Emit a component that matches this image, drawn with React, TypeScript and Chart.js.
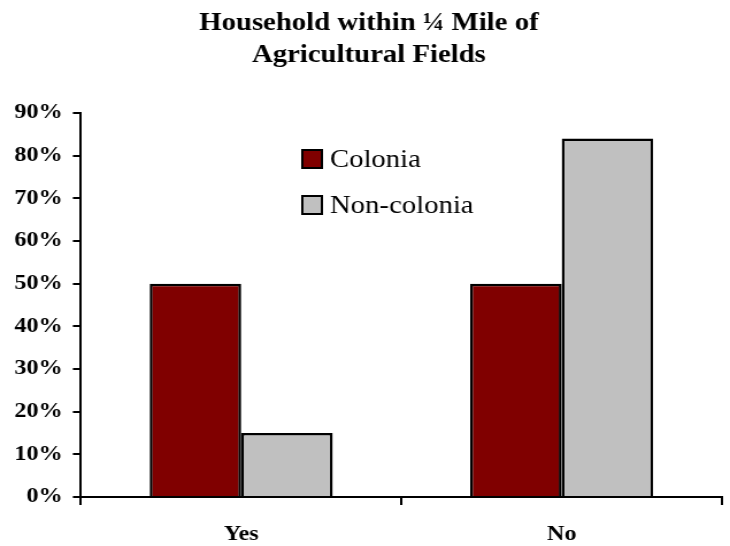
import React, { useEffect, useRef } from "react";
import { Chart, registerables } from "chart.js";

Chart.register(...registerables);

const categories = ["Yes", "No"];
const coloniaValues = [50, 50];
const nonColoniaValues = [15, 84];
const seriesLabels = ["Colonia", "Non-colonia"];
const titleLines = ["Household within \u00BC Mile of", "Agricultural Fields"];
const yTickMax = 90;
const yTickStep = 10;

const SERIF = "'Liberation Serif', 'Times New Roman', serif";
// the reference is horizontally stretched; render narrower and stretch with CSS
const SX = 1.15;
const DISPLAY_W = 730;
const DISPLAY_H = 546;
const CANVAS_W = Math.round(DISPLAY_W / SX);

const customTitle = {
  id: "customTitle",
  afterDraw(chart: any) {
    const ctx = chart.ctx;
    const cx = 369 / SX;
    const lineTops = [24, 56];
    ctx.save();
    ctx.fillStyle = "#000";
    ctx.font = `bold 25px ${SERIF}`;
    ctx.textAlign = "center";
    ctx.textBaseline = "middle";
    titleLines.forEach((t, i) => ctx.fillText(t, cx, lineTops[i]));
    ctx.restore();
  },
};

const insideLegend = {
  id: "insideLegend",
  afterDraw(chart: any) {
    const ctx = chart.ctx;
    const boxX = 263;
    const textX = 287;
    const rows = [159, 205];
    ctx.save();
    chart.data.datasets.forEach((ds: any, i: number) => {
      const cy = rows[i];
      ctx.fillStyle = ds.backgroundColor;
      ctx.fillRect(boxX, cy - 9, 17, 18);
      ctx.lineWidth = 2;
      ctx.strokeStyle = "#000";
      ctx.strokeRect(boxX, cy - 9, 17, 18);
      ctx.fillStyle = "#000";
      ctx.font = `25px ${SERIF}`;
      ctx.textBaseline = "middle";
      ctx.textAlign = "left";
      ctx.fillText(ds.label, textX, cy + 1);
    });
    ctx.restore();
  },
};

export default function App() {
  const ref = useRef<HTMLCanvasElement>(null);
  useEffect(() => {
    if (!ref.current) return;
    let chart: any = null;
    let cancelled = false;
    const build = () => {
      if (cancelled || !ref.current) return;
      chart = new Chart(ref.current, {
        type: "bar",
        data: {
          labels: categories,
          datasets: [
            {
              label: seriesLabels[0],
              data: coloniaValues,
              backgroundColor: "#800000",
              borderColor: "#000",
              borderWidth: 2.5,
              categoryPercentage: 0.571,
              barPercentage: 1,
            },
            {
              label: seriesLabels[1],
              data: nonColoniaValues,
              backgroundColor: "#C0C0C0",
              borderColor: "#000",
              borderWidth: 2.5,
              categoryPercentage: 0.571,
              barPercentage: 1,
            },
          ],
        },
        options: {
          responsive: false,
          animation: false,
          devicePixelRatio: 1,
          layout: { padding: { left: 0, right: 7, top: 113, bottom: 0 } },
          plugins: {
            legend: { display: false },
            tooltip: { enabled: false },
            title: { display: false },
          },
          scales: {
            x: {
              grid: {
                offset: true,
                drawOnChartArea: false,
                drawTicks: true,
                tickLength: 8,
                color: "#000",
                lineWidth: 2,
              },
              border: { display: true, color: "#000", width: 2 },
              ticks: {
                color: "#000",
                font: { family: SERIF, size: 21, weight: "bold" },
                padding: 17,
                maxRotation: 0,
              },
              afterFit: (scale: any) => {
                scale.height = 49;
              },
            },
            y: {
              min: 0,
              max: yTickMax,
              grid: {
                drawOnChartArea: false,
                drawTicks: true,
                tickLength: 7,
                color: "#000",
                lineWidth: 2,
              },
              border: { display: true, color: "#000", width: 2 },
              ticks: {
                stepSize: yTickStep,
                color: "#000",
                font: { family: SERIF, size: 21, weight: "bold" },
                padding: 9,
                callback: (v: any) => `${v}%`,
              },
              afterFit: (scale: any) => {
                scale.width = 70.4;
              },
            },
          },
        },
        plugins: [customTitle, insideLegend],
      });
    };
    const fonts: any = (document as any).fonts;
    if (fonts && fonts.load) {
      Promise.all([
        fonts.load(`bold 21px "Liberation Serif"`),
        fonts.load(`21px "Liberation Serif"`),
      ])
        .catch(() => null)
        .then(() => build());
    } else {
      build();
    }
    return () => {
      cancelled = true;
      if (chart) chart.destroy();
    };
  }, []);

  return (
    <div style={{ position: "fixed", left: 0, top: 0, width: DISPLAY_W, height: DISPLAY_H, background: "#fff" }}>
      <canvas
        ref={ref}
        width={CANVAS_W}
        height={DISPLAY_H}
        style={{ width: `${DISPLAY_W}px`, height: `${DISPLAY_H}px`, display: "block" }}
      />
    </div>
  );
}
